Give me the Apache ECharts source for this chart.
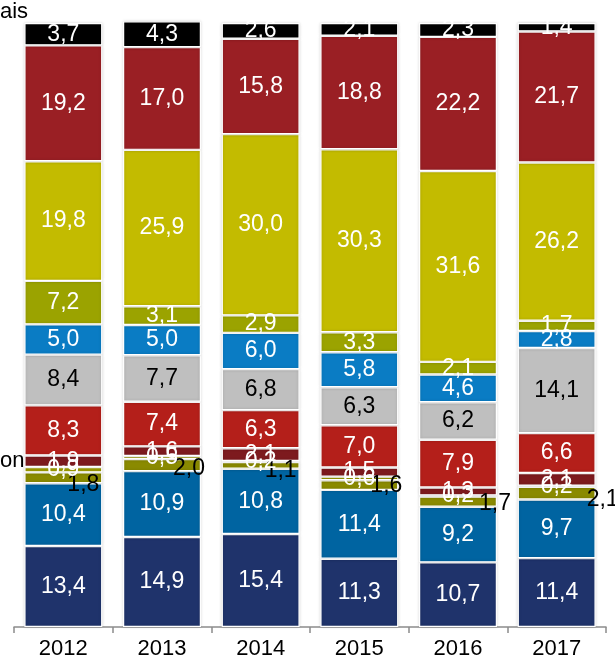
<!DOCTYPE html>
<html>
<head>
<meta charset="utf-8">
<style>
  html, body { margin: 0; padding: 0; background: #fff; }
  #chart { width: 615px; height: 660px; }
</style>
<script src="https://cdn.jsdelivr.net/npm/echarts@6/dist/echarts.min.js"></script>
</head>
<body>
<div id="chart"></div>
<script>
// categories
const years = ['2012', '2013', '2014', '2015', '2016', '2017']

// series values, bottom to top (share %)
const navy      = [13.4, 14.9, 15.4, 11.3, 10.7, 11.4]
const blue      = [10.4, 10.9, 10.8, 11.4, 9.2, 9.7]
const olive     = [1.8, 2.0, 1.1, 1.6, 1.7, 2.1]
const thinOlive = [0.9, 0.5, 0.2, 0.6, 0.2, 0.2]
const darkRed   = [1.9, 1.6, 2.1, 1.5, 1.3, 2.1]
const red       = [8.3, 7.4, 6.3, 7.0, 7.9, 6.6]
const gray      = [8.4, 7.7, 6.8, 6.3, 6.2, 14.1]
const lightBlue = [5.0, 5.0, 6.0, 5.8, 4.6, 2.8]
const green     = [7.2, 3.1, 2.9, 3.3, 2.1, 1.7]
const yellow    = [19.8, 25.9, 30.0, 30.3, 31.6, 26.2]
const wine      = [19.2, 17.0, 15.8, 18.8, 22.2, 21.7]
const black     = [3.7, 4.3, 2.6, 2.1, 2.3, 1.4]

// the olive labels were moved by hand beside the bars
const oliveLabelOffsets = [[20, 7], [27, 4], [20, 5], [27, 1], [37, 2], [46, 6]]

const FONT = 'Liberation Sans, Arial, sans-serif'

const chart = echarts.init(document.getElementById('chart'))

const fmt = (p) => p.value.toFixed(1).replace('.', ',')

// 构建一个堆叠系列
const makeSeries = (name, data, color, textColor) => ({
  name: name,
  type: 'bar',
  stack: 'total',
  barWidth: '79%',
  data: data,
  clip: false,
  itemStyle: {
    color: color,
    borderColor: '#fff',
    borderWidth: 1.2,
    shadowColor: 'rgba(0,0,0,0.18)',
    shadowBlur: 3
  },
  label: {
    show: true,
    position: 'inside',
    color: textColor,
    fontSize: 23,
    fontFamily: FONT,
    formatter: fmt
  }
})

const oliveSeries = makeSeries('olive', olive.map((v, i) => ({
  value: v,
  label: { offset: oliveLabelOffsets[i] }
})), '#8A8A00', '#000')

const series = [
  makeSeries('navy', navy, '#1F336B', '#fff'),
  makeSeries('blue', blue, '#0064A1', '#fff'),
  oliveSeries,
  makeSeries('thinOlive', thinOlive, '#9E9C00', '#fff'),
  makeSeries('darkRed', darkRed, '#7D1A1E', '#fff'),
  makeSeries('red', red, '#B41F1A', '#fff'),
  makeSeries('gray', gray, '#BFBFBF', '#000'),
  makeSeries('lightBlue', lightBlue, '#0A7CC4', '#fff'),
  makeSeries('green', green, '#9BA300', '#fff'),
  makeSeries('yellow', yellow, '#C3BB00', '#fff'),
  makeSeries('wine', wine, '#9A1F24', '#fff'),
  makeSeries('black', black, '#000', '#fff')
]

chart.setOption({
  animation: false,
  backgroundColor: '#fff',
  grid: { left: 14, right: 9, top: 23, bottom: 33, containLabel: false },
  xAxis: {
    type: 'category',
    data: years,
    axisLine: { lineStyle: { color: '#8C8C8C', width: 1.5 } },
    axisTick: { show: true, inside: false, length: 6, lineStyle: { color: '#8C8C8C', width: 1.5 } },
    axisLabel: {
      color: '#000',
      fontSize: 22,
      fontFamily: FONT,
      margin: 11
    }
  },
  yAxis: {
    type: 'value',
    min: 0,
    max: 100,
    show: false
  },
  graphic: [
    { type: 'text', left: 0, top: 1, style: { text: 'ais', fontSize: 22, fontFamily: FONT, fill: '#000' } },
    { type: 'text', left: 0, top: 450, style: { text: 'on', fontSize: 22, fontFamily: FONT, fill: '#000' } }
  ],
  series: series
})
</script>
</body>
</html>
